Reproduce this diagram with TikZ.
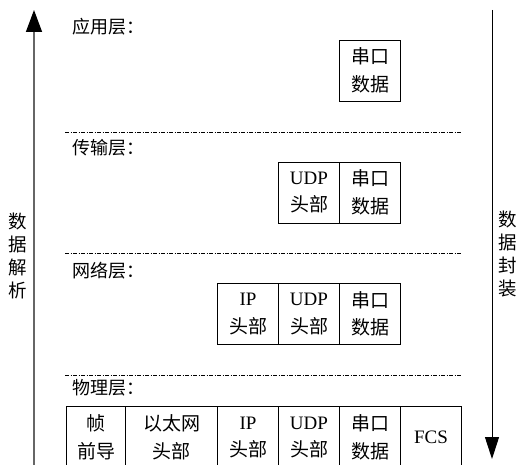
\documentclass[tikz,border=0pt]{standalone}
\usepackage{fontspec}
\setmainfont{Liberation Serif}
\newfontfamily\cjk{Noto Sans CJK SC}
\usetikzlibrary{positioning,arrows.meta}
\begin{document}
\begin{tikzpicture}[x=1pt,y=-1pt,node distance=0pt and 0pt,
cell/.style={
% The box:
rectangle,
draw=black,
line width=0.8pt,
minimum width=61pt,
minimum height=61pt,
inner sep=0pt,
outer sep=0pt,
align=center,
font=\fontsize{19}{27.5}\selectfont
},
layer/.style={
anchor=west,inner sep=0pt,
font=\cjk\fontsize{18}{20}\selectfont
},
side/.style={
align=center,inner sep=0pt,
font=\cjk\fontsize{18.5}{22.7}\selectfont
},
sep line/.style={line width=0.6pt,dash pattern=on 4pt off 1.5pt on 1pt off 1.5pt}
]
\clip (0,0) rectangle (525,465);
% Layer names:
\node (app) [layer] at (72,27) {应用层：};
\node (trans) [layer] at (72,148) {传输层：};
\node (net) [layer] at (72,271) {网络层：};
\node (phy) [layer] at (72,388) {物理层：};
\foreach \y in {132,253,375}
  \draw [sep line] (65,\y) -- (462,\y);
% Application:
\node (appdata) [cell] at (370,70.5) {\cjk 串口\\\cjk 数据};
% Transport:
\node (transdata) [cell] at (370,192.5) {\cjk 串口\\\cjk 数据};
\node (transudp) [cell,left=of transdata] {UDP\\\cjk 头部};
% Network:
\node (netdata) [cell] at (370,314) {\cjk 串口\\\cjk 数据};
\node (netudp) [cell,left=of netdata] {UDP\\\cjk 头部};
\node (netip) [cell,left=of netudp] {IP\\\cjk 头部};
% Physical:
\node (phydata) [cell,minimum height=63pt] at (370,437.5) {\cjk 串口\\\cjk 数据};
\node (phyudp) [cell,minimum height=63pt,left=of phydata] {UDP\\\cjk 头部};
\node (phyip) [cell,minimum height=63pt,left=of phyudp] {IP\\\cjk 头部};
\node (phyeth) [cell,minimum height=63pt,minimum width=92pt,left=of phyip] {\cjk 以太网\\\cjk 头部};
\node (phypre) [cell,minimum height=63pt,minimum width=59pt,left=of phyeth] {\cjk 帧\\\cjk 前导};
\node (phyfcs) [cell,minimum height=63pt,right=of phydata] {FCS};
% Side arrows:
\coordinate (parsefrom) at (34,470);
\coordinate (parseto) at (34,10);
\coordinate (packfrom) at (492,10);
\coordinate (packto) at (492,459);
\draw [black!60,line width=1.4pt,-{Triangle[length=22pt,width=16pt,black]}] (parsefrom) -- (parseto);
\draw [black,line width=1pt,-{Triangle[length=22pt,width=14pt]}] (packfrom) -- (packto);
\node (parse) [side] at (18,256) {数\\据\\解\\析};
\node (pack) [side] at (508,254) {数\\据\\封\\装};
\end{tikzpicture}
\end{document}
